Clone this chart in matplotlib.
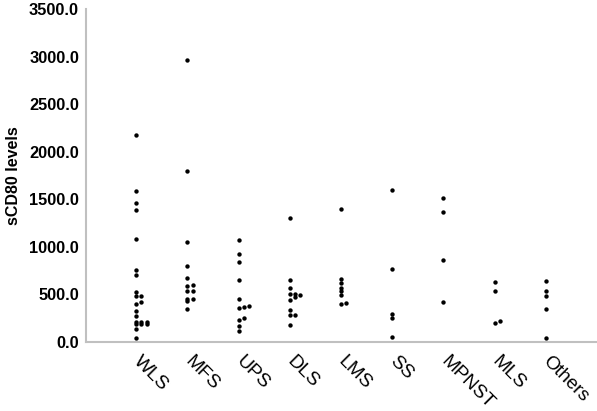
import matplotlib
matplotlib.use("Agg")
import matplotlib.pyplot as plt
from matplotlib.transforms import ScaledTranslation
import numpy as np

categories = ["WLS", "MFS", "UPS", "DLS", "LMS", "SS", "MPNST", "MLS", "Others"]
wls = [2180, 1585, 1456, 1389, 1081, 756, 700, 522, 486, 486, 423, 396, 326,
       273, 213, 213, 213, 189, 189, 189, 140, 39]
mfs = [2960, 1796, 1053, 798, 675, 602, 588, 532, 532, 455, 448, 427, 346]
ups = [1067, 924, 837, 654, 455, 375, 367, 354, 252, 228, 168, 119]
dls = [1305, 648, 564, 505, 501, 490, 469, 441, 333, 284, 284, 182]
lms = [1400, 665, 620, 564, 532, 494, 406, 399]
ss = [1599, 763, 294, 252, 56]
mpnst = [1512, 1368, 858, 420]
mls = [633, 539, 217, 203]
others = [640, 532, 483, 346, 42]
series = [wls, mfs, ups, dls, lms, ss, mpnst, mls, others]
yticks = [0, 500, 1000, 1500, 2000, 2500, 3000, 3500]

W, H = 597, 411
fig = plt.figure(figsize=(W / 100, H / 100), dpi=100)
ax = fig.add_axes([86 / W, (H - 342) / H, (W - 86) / W, (342 - 9) / H])

BIN = 55.0
STEP = 0.102
for i, vals in enumerate(series):
    pos = i + 1
    v = np.sort(np.asarray(vals, dtype=float))
    bins = np.floor(v / BIN)
    xs = []
    counts = {}
    for b in bins:
        k = counts.get(b, 0)
        counts[b] = k + 1
        xs.append(pos + STEP * (k % 3))
    ax.scatter(xs, v, s=10, color="black", linewidths=0, zorder=3)

ax.set_xlim(0.02, 10.0)
ax.set_ylim(0, 3500)
ax.set_yticks(yticks)
ax.set_yticklabels([f"{t:.1f}" for t in yticks], fontfamily="Liberation Sans",
                   fontweight="bold", fontsize=11.8)
ax.set_xticks(range(1, len(categories) + 1))
ax.set_xticklabels(categories, rotation=-45, ha="left", va="center",
                   rotation_mode="anchor", fontfamily="Liberation Sans", fontsize=13.8)
shift = ScaledTranslation(-0.11, 0.02, fig.dpi_scale_trans)
for lbl in ax.get_xticklabels():
    lbl.set_transform(lbl.get_transform() + shift)
ax.tick_params(axis="both", length=0)
ax.tick_params(axis="y", pad=5)
ax.tick_params(axis="x", pad=12)
for sp in ["top", "right"]:
    ax.spines[sp].set_visible(False)
for sp in ["left", "bottom"]:
    ax.spines[sp].set_color("#c0c0c0")
    ax.spines[sp].set_linewidth(1.5)
ax.set_ylabel("sCD80 levels", fontfamily="Liberation Sans", fontweight="bold",
              fontsize=11.5, labelpad=6)
fig.savefig("out.png", dpi=100)
